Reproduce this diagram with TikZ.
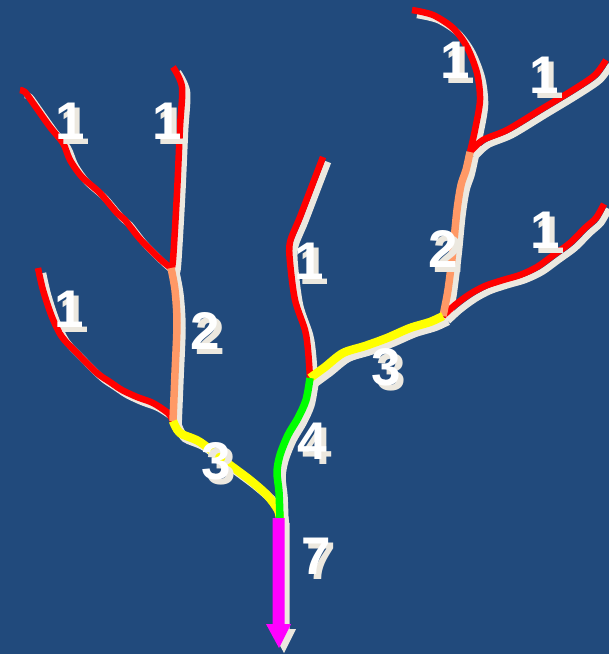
\documentclass[tikz,border=0pt]{standalone}
\usepackage{fontspec}
\setmainfont{Liberation Sans}
\usetikzlibrary{calc}
\definecolor{bg}{RGB}{33,74,124}
\definecolor{shd}{RGB}{236,232,223}
\definecolor{ord1}{RGB}{255,0,0}
\definecolor{ord2}{RGB}{255,153,102}
\definecolor{ord3}{RGB}{255,255,0}
\definecolor{ord4}{RGB}{0,255,0}
\definecolor{ord7}{RGB}{255,0,255}
\newcommand\shadowdigit[1]{\makebox[0pt][l]{\hspace*{5pt}\raisebox{-5pt}[0pt][0pt]{\textcolor{shd}{#1}}}#1}
\tikzset{
  riv/.style={line cap=butt, line join=round},
  lbl/.style={inner sep=0pt, text=white, font=\fontsize{53}{53}\selectfont\bfseries},
}
\def\pA{(20,90) (25,92) (33,103) (50,127) (63,143) (70,160) (82,177) (100,193) (117,213) (125,220) (140,239) (160,259) (171,268)}
\def\pB{(173,67) (182,87) (180,127) (177,193) (173,260) (171,268)}
\def\pC{(38,268) (43,290) (52,317) (62,337) (77,353) (97,373) (110,382) (122,390) (137,397) (153,403) (168,413) (173,421)}
\def\pS{(171,268) (175,290) (177,323) (175,373) (173,421)}
\def\pY{(173,421) (180,433) (200,442) (230,465) (250,480) (267,495) (278,510) (280,520)}
\def\pM{(323,157) (313,183) (300,217) (290,242) (290,262) (295,300) (305,330) (308,350) (310,378)}
\def\pG{(310,378) (306,400) (298,418) (288,435) (280,455) (277,472) (279,492) (280,520)}
\def\pYR{(310,378) (325,367) (343,353) (365,346) (387,338) (410,328) (430,322) (443,316)}
\def\pSR{(443,316) (448,290) (453,250) (457,210) (461,185) (466,170) (470,152)}
\def\pRL{(443,316) (455,305) (470,294) (485,286) (503,280) (520,275) (537,267) (555,254) (570,243) (585,228) (596,218) (604,204)}
\def\pRT{(412,10) (433,15) (453,28) (467,47) (477,73) (480,100) (475,130) (470,152)}
\def\pRR{(470,152) (483,140) (507,130) (540,110) (573,90) (595,75) (606,60)}
\begin{document}
\begin{tikzpicture}[x=1pt,y=-1pt]
\fill[bg] (0,0) rectangle (609,654);
\useasboundingbox (0,0) rectangle (609,654);
% junction coordinates
\coordinate (jL1) at (171,268);
\coordinate (jL2) at (173,421);
\coordinate (jM) at (310,378);
\coordinate (jR1) at (443,316);
\coordinate (jR2) at (470,152);
\coordinate (outlet) at (280,520);
% shadows
\begin{scope}[shift={(5,5)}]
\draw[riv,draw=shd,line width=6.5pt] plot[smooth,tension=0.5] coordinates {\pA};
\draw[riv,draw=shd,line width=6.5pt] plot[smooth,tension=0.5] coordinates {\pB};
\draw[riv,draw=shd,line width=6.5pt] plot[smooth,tension=0.5] coordinates {\pC};
\draw[riv,draw=shd,line width=7.5pt] plot[smooth,tension=0.5] coordinates {\pS};
\draw[riv,draw=shd,line width=8.5pt] plot[smooth,tension=0.5] coordinates {\pY};
\draw[riv,draw=shd,line width=6.5pt] plot[smooth,tension=0.5] coordinates {\pM};
\draw[riv,draw=shd,line width=7.5pt] plot[smooth,tension=0.5] coordinates {\pG};
\draw[riv,draw=shd,line width=8.5pt] plot[smooth,tension=0.5] coordinates {\pYR};
\draw[riv,draw=shd,line width=7.5pt] plot[smooth,tension=0.5] coordinates {\pSR};
\draw[riv,draw=shd,line width=6.5pt] plot[smooth,tension=0.5] coordinates {\pRL};
\draw[riv,draw=shd,line width=6.5pt] plot[smooth,tension=0.5] coordinates {\pRT};
\draw[riv,draw=shd,line width=6.5pt] plot[smooth,tension=0.5] coordinates {\pRR};
\fill[shd] (272.5,518) -- (284.5,518) -- (284.5,624) -- (291,624) -- (279,648) -- (266,624) -- (272.5,624) -- cycle;
\end{scope}
% coloured streams
\draw[riv,draw=ord1,line width=6.5pt] plot[smooth,tension=0.5] coordinates {\pA};
\draw[riv,draw=ord1,line width=6.5pt] plot[smooth,tension=0.5] coordinates {\pB};
\draw[riv,draw=ord1,line width=6.5pt] plot[smooth,tension=0.5] coordinates {\pC};
\draw[riv,draw=ord1,line width=6.5pt] plot[smooth,tension=0.5] coordinates {\pM};
\draw[riv,draw=ord1,line width=6.5pt] plot[smooth,tension=0.5] coordinates {\pRL};
\draw[riv,draw=ord1,line width=6.5pt] plot[smooth,tension=0.5] coordinates {\pRT};
\draw[riv,draw=ord1,line width=6.5pt] plot[smooth,tension=0.5] coordinates {\pRR};
\draw[riv,draw=ord2,line width=7.5pt] plot[smooth,tension=0.5] coordinates {\pS};
\draw[riv,draw=ord2,line width=7.5pt] plot[smooth,tension=0.5] coordinates {\pSR};
\draw[riv,draw=ord3,line width=8.5pt] plot[smooth,tension=0.5] coordinates {\pY};
\draw[riv,draw=ord3,line width=8.5pt] plot[smooth,tension=0.5] coordinates {\pYR};
\draw[riv,draw=ord4,line width=7.5pt] plot[smooth,tension=0.5] coordinates {\pG};
\fill[ord7] (272.5,518) -- (284.5,518) -- (284.5,624) -- (291,624) -- (279,648) -- (266,624) -- (272.5,624) -- cycle;
% labels (white digit with offset light shadow)
\foreach \n/\x/\y/\t in {a/70/121/1, b/167/121/1, c/69/309/1, d/205/331/2, e/216/461/3, f/312/441/4, g/316/556/7, h/309/261/1, i/443/249/2, j/386/367/3, k/545/230/1, l/455/60/1, m/544/75/1}{
  \node[lbl] (lbl\n) at (\x,\y) {\shadowdigit{\t}};
}
\end{tikzpicture}
\end{document}
